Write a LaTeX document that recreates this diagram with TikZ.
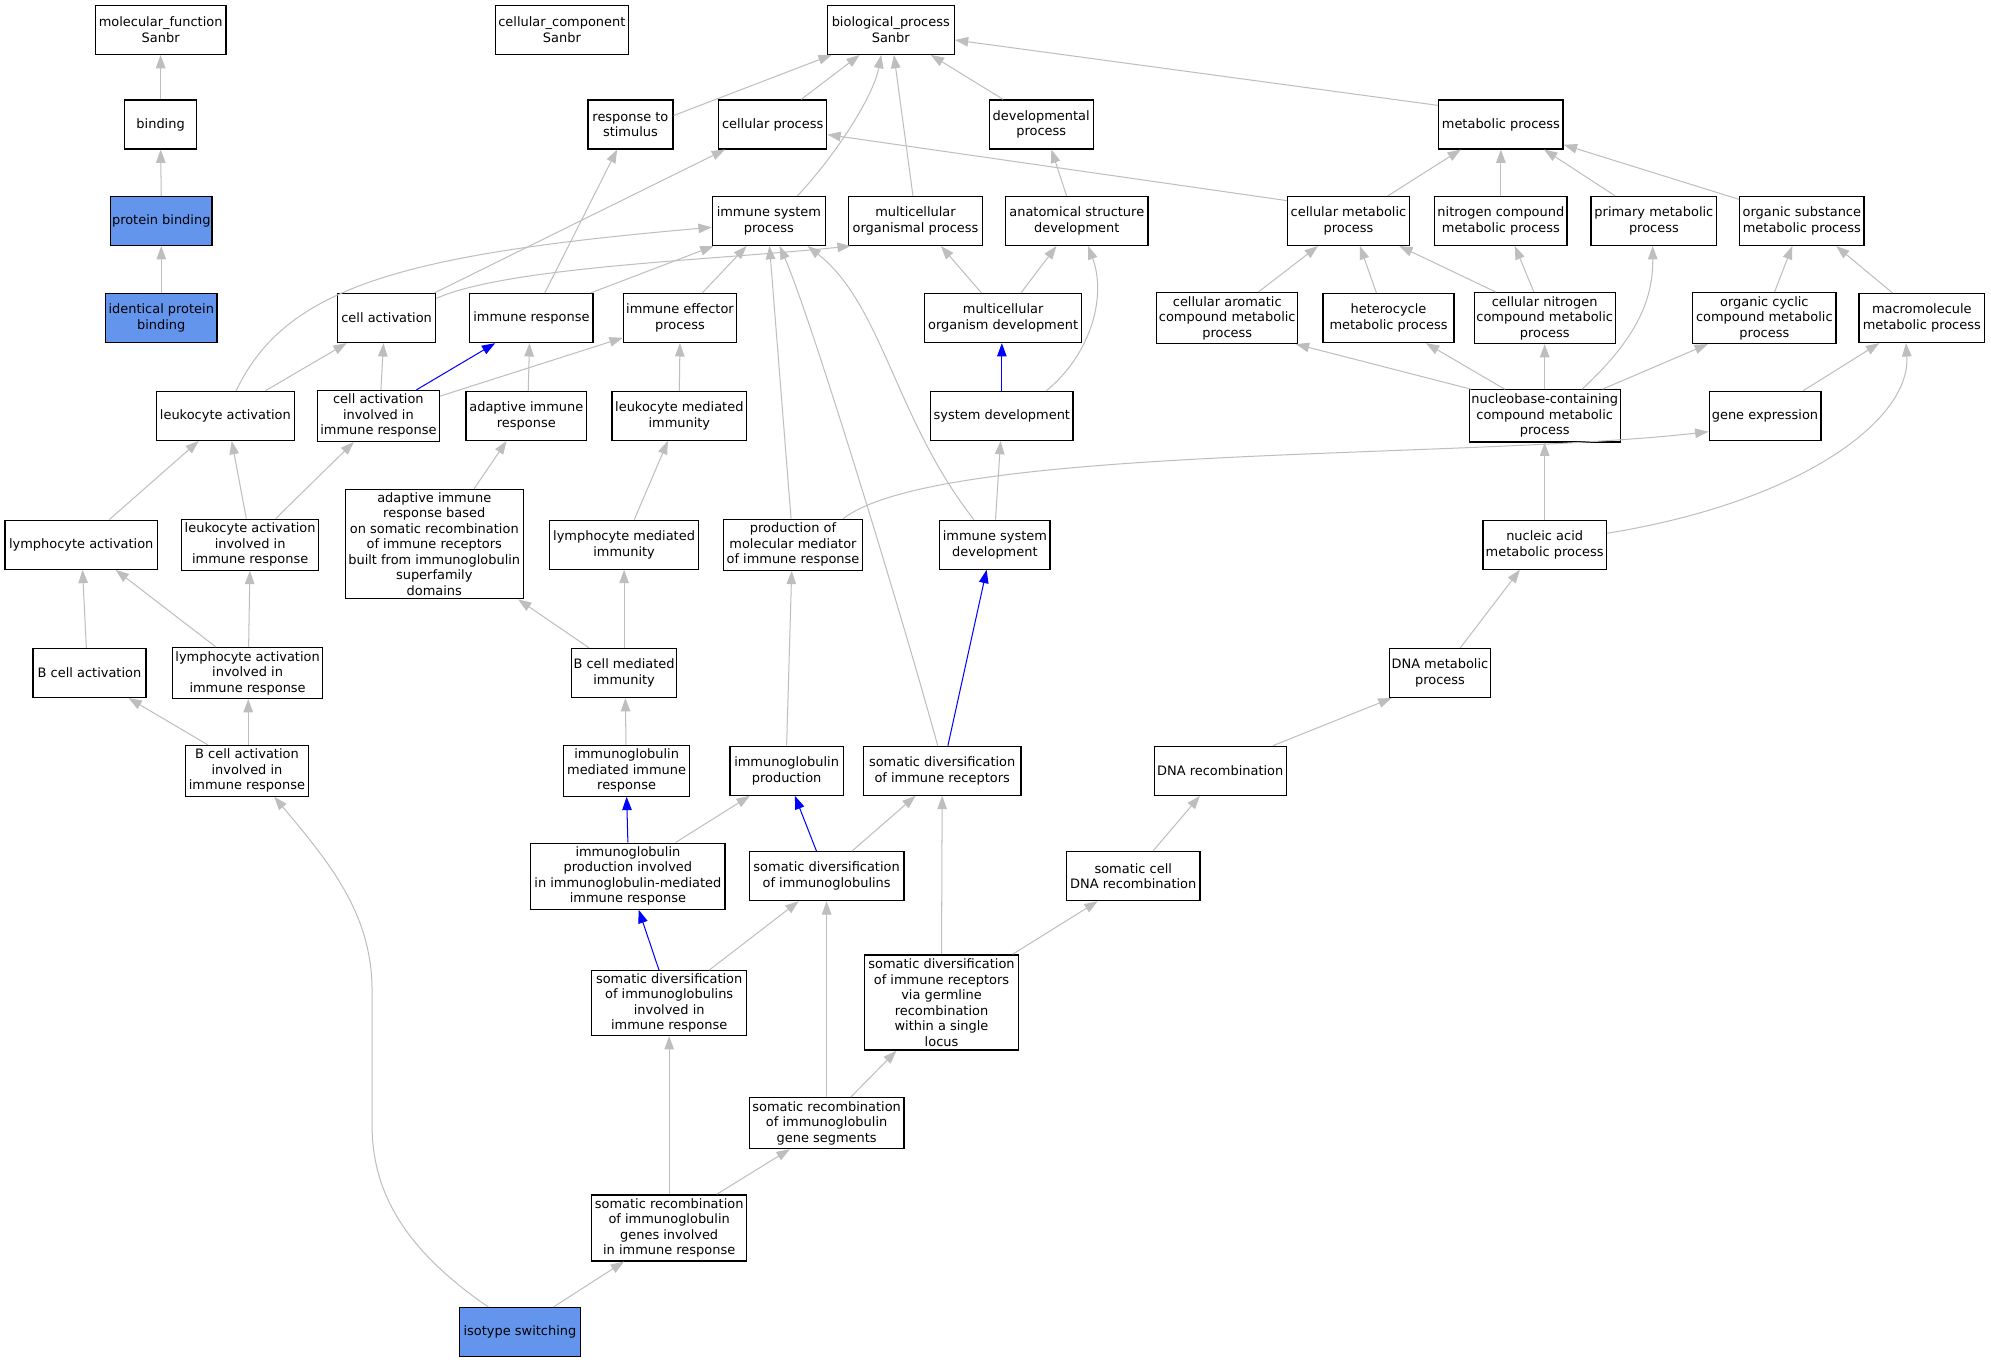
\documentclass[tikz,border=0pt]{standalone}
\usepackage{fontspec}
\setmainfont{DejaVu Sans}
\usetikzlibrary{arrows.meta}
\definecolor{edgegray}{RGB}{190,190,190}
\definecolor{cfblue}{RGB}{100,149,237}
\newcommand{\gfont}{\fontsize{10.2}{12.2}\selectfont}
\tikzset{
  gb/.style={draw=black, line width=1pt, fill=white, inner xsep=0.3pt, inner ysep=0.5pt,
    align=center, font=\gfont, minimum height=38.5pt},
  bluebox/.style={gb, fill=cfblue},
  gedge/.style={draw=edgegray, line width=0.8pt, -{Triangle[length=10.5pt,width=7.5pt]}},
  bedge/.style={draw=blue, line width=0.8pt, -{Triangle[length=10.5pt,width=7.5pt]}},
}
\begin{document}
\begin{tikzpicture}[x=1pt,y=-1pt]
\useasboundingbox[fill=white] (0,0) rectangle (1568,1073.4);
% row 1
\node[gb, minimum width=103pt] (mf) at (126.5,23.5) {molecular\_function\\Sanbr};
\node[gb, minimum width=105pt] (cc) at (442.5,23.5) {cellular\_component\\Sanbr};
\node[gb, minimum width=100pt] (bp) at (701.5,23.5) {biological\_process\\Sanbr};
% row 2
\node[gb, minimum width=57pt] (binding) at (126.5,98) {binding};
\node[gb, minimum width=67pt] (rts) at (496.5,98) {response to\\stimulus};
\node[gb, minimum width=85pt] (cp) at (608.5,98) {cellular process};
\node[gb, minimum width=82pt] (dev) at (820,98) {developmental\\process};
\node[gb, minimum width=98pt] (mp) at (1182,98) {metabolic process};
% row 3
\node[bluebox, minimum width=80pt] (pb) at (127,174) {protein binding};
\node[gb, minimum width=89pt] (isp) at (605.5,174) {immune system\\process};
\node[gb, minimum width=105pt] (mop) at (721,174) {multicellular\\organismal process};
\node[gb, minimum width=112pt] (asd) at (848,174) {anatomical structure\\development};
\node[gb, minimum width=96pt] (cmp) at (1062,174) {cellular metabolic\\process};
\node[gb, minimum width=104pt] (ncmp) at (1182,174) {nitrogen compound\\metabolic process};
\node[gb, minimum width=99pt] (pmp) at (1302.5,174) {primary metabolic\\process};
\node[gb, minimum width=98pt] (osmp) at (1419,174) {organic substance\\metabolic process};
% row 4
\node[bluebox, minimum width=88pt] (ipb) at (127,250.5) {identical protein\\binding};
\node[gb, minimum width=77pt] (ca) at (304.5,250.5) {cell activation};
\node[gb, minimum width=97pt] (ir) at (418.5,250.5) {immune response};
\node[gb, minimum width=89pt] (iep) at (535.5,250.5) {immune effector\\process};
\node[gb, minimum width=124pt] (mod) at (790,250.5) {multicellular\\organism development};
\node[gb, minimum width=111pt, minimum height=40pt] (cacmp) at (966.5,250.5) {cellular aromatic\\compound metabolic\\process};
\node[gb, minimum width=103pt] (hmp) at (1093.5,250.5) {heterocycle\\metabolic process};
\node[gb, minimum width=111pt, minimum height=40pt] (cncmp) at (1216.5,250.5) {cellular nitrogen\\compound metabolic\\process};
\node[gb, minimum width=113pt, minimum height=40pt] (occmp) at (1389.5,250.5) {organic cyclic\\compound metabolic\\process};
\node[gb, minimum width=99pt] (mmp) at (1513.5,250.5) {macromolecule\\metabolic process};
% row 5
\node[gb, minimum width=109pt] (la) at (177.5,327.5) {leukocyte activation};
\node[gb, minimum width=96pt, minimum height=40pt] (caiir) at (298,327.5) {cell activation\\involved in\\immune response};
\node[gb, minimum width=95pt] (air) at (414.5,327.5) {adaptive immune\\response};
\node[gb, minimum width=106pt] (lmi) at (535,327.5) {leukocyte mediated\\immunity};
\node[gb, minimum width=112pt] (sd) at (789,327.5) {system development};
\node[gb, minimum width=119pt, minimum height=41pt] (ncc) at (1216.5,327.5) {nucleobase-containing\\compound metabolic\\process};
\node[gb, minimum width=88pt] (gexp) at (1390,327.5) {gene expression};
% row 6
\node[gb, minimum width=120pt] (lyma) at (64,429) {lymphocyte activation};
\node[gb, minimum width=108pt, minimum height=40pt] (laiir) at (197,429) {leukocyte activation\\involved in\\immune response};
\node[gb, minimum width=140pt, minimum height=86pt] (airsr) at (342,428.5) {adaptive immune\\response based\\on somatic recombination\\of immune receptors\\built from immunoglobulin\\superfamily\\domains};
\node[gb, minimum width=117pt] (lymi) at (491.5,429) {lymphocyte mediated\\immunity};
\node[gb, minimum width=109pt, minimum height=40pt] (pmm) at (624.5,429) {production of\\molecular mediator\\of immune response};
\node[gb, minimum width=87pt] (isd) at (783.5,429) {immune system\\development};
\node[gb, minimum width=97pt] (nam) at (1216.5,429) {nucleic acid\\metabolic process};
% row 7
\node[gb, minimum width=89pt] (bca) at (70.5,530) {B cell activation};
\node[gb, minimum width=118pt, minimum height=40pt] (lyaiir) at (195,530) {lymphocyte activation\\involved in\\immune response};
\node[gb, minimum width=83pt] (bcmi) at (491.5,530) {B cell mediated\\immunity};
\node[gb, minimum width=80pt] (dmp) at (1134,530) {DNA metabolic\\process};
% row 8
\node[gb, minimum width=97pt, minimum height=40pt] (bcaiir) at (194.5,607) {B cell activation\\involved in\\immune response};
\node[gb, minimum width=99pt, minimum height=40pt] (imir) at (493.5,607) {immunoglobulin\\mediated immune\\response};
\node[gb, minimum width=89pt] (ip) at (619.5,607) {immunoglobulin\\production};
\node[gb, minimum width=124pt] (sdir) at (742,607) {somatic diversification\\of immune receptors};
\node[gb, minimum width=104pt] (dr) at (961,607) {DNA recombination};
% row 9
\node[gb, minimum width=153pt, minimum height=52pt] (ipiimir) at (494.5,690) {immunoglobulin\\production involved\\in immunoglobulin-mediated\\immune response};
\node[gb, minimum width=122pt] (sdi) at (651,690) {somatic diversification\\of immunoglobulins};
\node[gb, minimum width=105pt] (scdr) at (892.5,690) {somatic cell\\DNA recombination};
% row 10
\node[gb, minimum width=122pt, minimum height=51pt] (sdiiir) at (527,790) {somatic diversification\\of immunoglobulins\\involved in\\immune response};
\node[gb, minimum width=121pt, minimum height=75pt] (sdirgr) at (741.5,789.5) {somatic diversification\\of immune receptors\\via germline\\recombination\\within a single\\locus};
% rows 11-13
\node[gb, minimum width=122pt, minimum height=40pt] (srigs) at (651,884.5) {somatic recombination\\of immunoglobulin\\gene segments};
\node[gb, minimum width=122pt, minimum height=52pt] (srigiir) at (527,967) {somatic recombination\\of immunoglobulin\\genes involved\\in immune response};
\node[bluebox, minimum width=95pt] (iso) at (409.5,1049) {isotype switching};

% ---- edges ----
\draw[gedge] (binding.north) -- (mf.south);
\draw[gedge] (pb.north) -- (binding.south);
\draw[gedge] (ipb.north) -- (pb.south);
\draw[gedge] ([yshift=7pt]rts.east) -- ([xshift=-46.5pt]bp.south);
\draw[gedge] ([xshift=22.5pt]cp.north) -- ([xshift=-24.5pt]bp.south);
\draw[gedge] ([xshift=-30pt]dev.north) -- ([xshift=31.5pt]bp.south);
\draw[gedge] ([yshift=15pt]mp.west) -- ([yshift=-8pt]bp.east);
\draw[gedge] ([xshift=22.5pt]isp.north) .. controls (660,120) and (688,75) .. ([xshift=-7.5pt]bp.south);
\draw[gedge] ([xshift=-2pt]mop.north) -- ([xshift=2.5pt]bp.south);
\draw[gedge] ([xshift=-8pt]asd.north) -- ([xshift=8pt]dev.south);
\draw[gedge] ([yshift=16pt]cmp.west) -- ([yshift=-8pt]cp.east);
\draw[gedge] ([xshift=37.5pt]ca.north) -- ([xshift=-37.5pt]cp.south);
\draw[gedge] ([yshift=15.5pt]ca.east) .. controls (400,210) and (560,205) .. ([xshift=-51pt]mop.south);
\draw[gedge] ([xshift=10.5pt]ir.north) -- ([xshift=-10.5pt]rts.south);
\draw[gedge] ([xshift=46.5pt]ir.north) -- ([xshift=-43.5pt]isp.south);
\draw[gedge] ([xshift=17.5pt]iep.north) -- ([xshift=-17.5pt]isp.south);
\draw[gedge] ([xshift=8.5pt]la.north) .. controls (225,225) and (320,200) .. ([yshift=-5pt]isp.west);
\draw[gedge] ([xshift=31.5pt]la.north) -- ([xshift=-31.5pt]ca.south);
\draw[gedge] ([xshift=2pt]caiir.north) -- ([xshift=-2.5pt]ca.south);
\draw[bedge] ([xshift=30pt]caiir.north) -- ([xshift=-28.5pt]ir.south);
\draw[gedge] ([yshift=15.5pt]caiir.east) -- ([yshift=-15.5pt]iep.west);
\draw[gedge] ([xshift=1.5pt]air.north) -- ([xshift=-1.5pt]ir.south);
\draw[gedge] (lmi.north) -- (iep.south);
\draw[gedge] ([xshift=-17pt]mod.north) -- ([xshift=20pt]mop.south);
\draw[gedge] ([xshift=14pt]mod.north) -- ([xshift=-16pt]asd.south);
\draw[bedge] (sd.north) -- ([xshift=-1pt]mod.south);
\draw[gedge] ([xshift=35pt]sd.north) .. controls (858,280) and (872,235) .. ([xshift=9pt]asd.south);
\draw[gedge] ([xshift=0.5pt]isd.north) -- ([xshift=-1pt]sd.south);
\draw[gedge] ([xshift=-16.5pt]isd.north) .. controls (705,330) and (695,240) .. ([xshift=30.5pt]isp.south);
\draw[gedge] ([xshift=-1.5pt]pmm.north) -- ([xshift=0.5pt]isp.south);
\draw[gedge] ([xshift=39.5pt]pmm.north) .. controls (740,350) and (1150,362) .. ([yshift=-12.5pt]gexp.west);
\draw[gedge] ([xshift=-3.5pt]sdir.north) .. controls (711,487) and (640,254) .. ([xshift=8.5pt]isp.south);
\draw[bedge] ([xshift=4.5pt]sdir.north) -- ([xshift=-6.5pt]isd.south);
\draw[gedge] (ip.north) -- ([xshift=-1pt]pmm.south);
\draw[gedge] ([xshift=24.5pt]cacmp.north) -- ([xshift=-24pt]cmp.south);
\draw[gedge] ([xshift=-9.5pt]hmp.north) -- ([xshift=9pt]cmp.south);
\draw[gedge] ([xshift=-38.5pt]cncmp.north) -- ([xshift=40pt]cmp.south);
\draw[gedge] ([xshift=-8.5pt]cncmp.north) -- ([xshift=11pt]ncmp.south);
\draw[gedge] ([xshift=31pt]cmp.north) -- ([xshift=-31.5pt]mp.south);
\draw[gedge] (ncmp.north) -- (mp.south);
\draw[gedge] ([xshift=-30.5pt]pmp.north) -- ([xshift=34pt]mp.south);
\draw[gedge] ([yshift=17pt]osmp.west) -- ([yshift=-16pt]mp.east);
\draw[gedge] ([xshift=8pt]occmp.north) -- ([xshift=-7.5pt]osmp.south);
\draw[gedge] ([xshift=-23pt]mmp.north) -- ([xshift=27pt]osmp.south);
\draw[gedge] ([xshift=-58pt]ncc.north) -- ([xshift=54pt]cacmp.south);
\draw[gedge] ([xshift=-31.5pt]ncc.north) -- ([xshift=29.5pt]hmp.south);
\draw[gedge] (ncc.north) -- (cncmp.south);
\draw[gedge] ([xshift=29.5pt]ncc.north) .. controls (1285,270) and (1302,240) .. ([xshift=-1pt]pmp.south);
\draw[gedge] ([xshift=45.5pt]ncc.north) -- ([xshift=-44.5pt]occmp.south);
\draw[gedge] ([xshift=30pt]gexp.north) -- ([xshift=-33.5pt]mmp.south);
\draw[gedge] (nam.north) -- (ncc.south);
\draw[gedge] ([yshift=9pt]nam.east) .. controls (1420,395) and (1505,330) .. ([xshift=-12.5pt]mmp.south);
\draw[gedge] ([xshift=16pt]dmp.north) -- ([xshift=-19.5pt]nam.south);
\draw[gedge] ([xshift=41.5pt]dr.north) -- ([xshift=-38pt]dmp.south);
\draw[gedge] ([xshift=15.5pt]scdr.north) -- ([xshift=-16pt]dr.south);
\draw[gedge] ([xshift=56pt]sdirgr.north) -- ([xshift=-28pt]scdr.south);
\draw[gedge] (sdirgr.north) -- (sdir.south);
\draw[gedge] ([xshift=19pt]srigs.north) -- ([xshift=-35.5pt]sdirgr.south);
\draw[gedge] (srigs.north) -- (sdi.south);
\draw[gedge] ([xshift=37.5pt]srigiir.north) -- ([xshift=-29pt]srigs.south);
\draw[gedge] (srigiir.north) -- (sdiiir.south);
\draw[gedge] ([xshift=26.5pt]iso.north) -- ([xshift=-35.5pt]srigiir.south);
\draw[gedge] ([xshift=-25pt]iso.north) .. controls (320,985) and (293,940) .. (293,886) -- (293,780) .. controls (293,720) and (260,680) .. ([xshift=21.5pt]bcaiir.south);
\draw[gedge] ([xshift=31.5pt]sdiiir.north) -- ([xshift=-22pt]sdi.south);
\draw[bedge] ([xshift=-8pt]sdiiir.north) -- ([xshift=8.5pt]ipiimir.south);
\draw[gedge] ([xshift=20pt]sdi.north) -- ([xshift=-21pt]sdir.south);
\draw[bedge] ([xshift=-8pt]sdi.north) -- ([xshift=6.5pt]ip.south);
\draw[gedge] ([xshift=37.5pt]ipiimir.north) -- ([xshift=-29pt]ip.south);
\draw[bedge] (ipiimir.north) -- (imir.south);
\draw[gedge] ([xshift=-0.5pt]imir.north) -- ([xshift=1pt]bcmi.south);
\draw[gedge] (bcmi.north) -- (lymi.south);
\draw[gedge] ([xshift=-27.5pt]bcmi.north) -- ([xshift=66pt]airsr.south);
\draw[gedge] ([xshift=8pt]lymi.north) -- ([xshift=-9pt]lmi.south);
\draw[gedge] ([xshift=31.3pt]airsr.north) -- ([xshift=-15.5pt]air.south);
\draw[gedge] ([xshift=-31pt]bcaiir.north) -- ([xshift=30.7pt]bca.south);
\draw[gedge] ([xshift=1pt]bcaiir.north) -- ([xshift=0.5pt]lyaiir.south);
\draw[gedge] ([xshift=0.8pt]lyaiir.north) -- ([xshift=-0.2pt]laiir.south);
\draw[gedge] ([xshift=-25pt]lyaiir.north) -- ([xshift=27pt]lyma.south);
\draw[gedge] ([xshift=-2.5pt]bca.north) -- ([xshift=1pt]lyma.south);
\draw[gedge] ([xshift=22pt]lyma.north) -- ([xshift=-21pt]la.south);
\draw[gedge] ([xshift=-3pt]laiir.north) -- ([xshift=5pt]la.south);
\draw[gedge] ([xshift=20pt]laiir.north) -- ([xshift=-19.3pt]caiir.south);
\end{tikzpicture}
\end{document}
